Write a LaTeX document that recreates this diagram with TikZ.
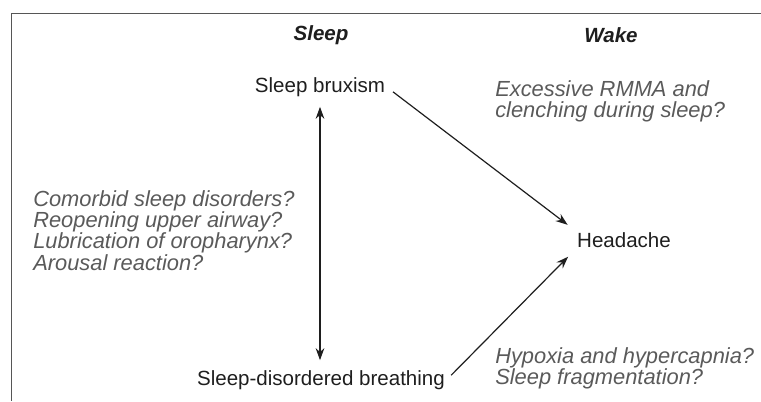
\documentclass[tikz,border=0pt]{standalone}
\usepackage{fontspec}
\setmainfont{Liberation Sans}
\usetikzlibrary{arrows.meta}
\definecolor{ink}{HTML}{1E1E1E}
\definecolor{note}{HTML}{5A5A5A}
\tikzset{
  state/.style ={font=\fontsize{15.4}{18}\selectfont, text=ink, inner sep=1pt},
  phase/.style ={font=\fontsize{15.4}{18}\selectfont\bfseries\itshape, text=ink},
  query/.style ={font=\fontsize{16.4}{16}\selectfont\itshape, text=note,
                 align=left, inner sep=0pt, anchor=north west},
  % causal link between two states; the double one is the sleep association
  link/.style  ={draw=ink, line width=0.9pt, -{Stealth[length=9pt,width=6.5pt]}},
  twoway/.style={draw=ink, line width=0.9pt,
                 {Stealth[length=9pt,width=6.5pt]}-{Stealth[length=9pt,width=6.5pt]}},
  frame/.style ={draw=ink!75, line width=0.7pt},
}

\begin{document}
\begin{tikzpicture}[x=0.75pt,y=-0.75pt]
\useasboundingbox (0,0) rectangle (761,401);
\draw[frame] (761,13) -- (11,13) -- (11,401);
\node[phase] (sl) at (321,35) {Sleep};
\node[phase] (wk) at (611,35) {Wake};
\node[state] (sb)  at (320,87)  {Sleep bruxism};
\node[state] (sdb) at (321,380) {Sleep-disordered breathing};
\node[state] (ha)  at (624,240) {Headache};
\node[query] (rmma) at (495,80) {Excessive RMMA and\\clenching during sleep?};
\node[query] (why)  at (33,190) {Comorbid sleep disorders?\\Reopening upper airway?\\
  Lubrication of oropharynx?\\Arousal reaction?};
\node[query] (hyp)  at (495,347) {Hypoxia and hypercapnia?\\Sleep fragmentation?};
\draw[twoway, shorten <=6.5pt, shorten >=6.5pt] (sb.south) -- (sb.south |- sdb.north);
\draw[link, shorten <=6pt, shorten >=7.5pt] (sb.east) -- (ha.north west);
\draw[link, shorten <=5pt, shorten >=8pt] (sdb.east) -- (ha.south west);
\end{tikzpicture}
\end{document}
